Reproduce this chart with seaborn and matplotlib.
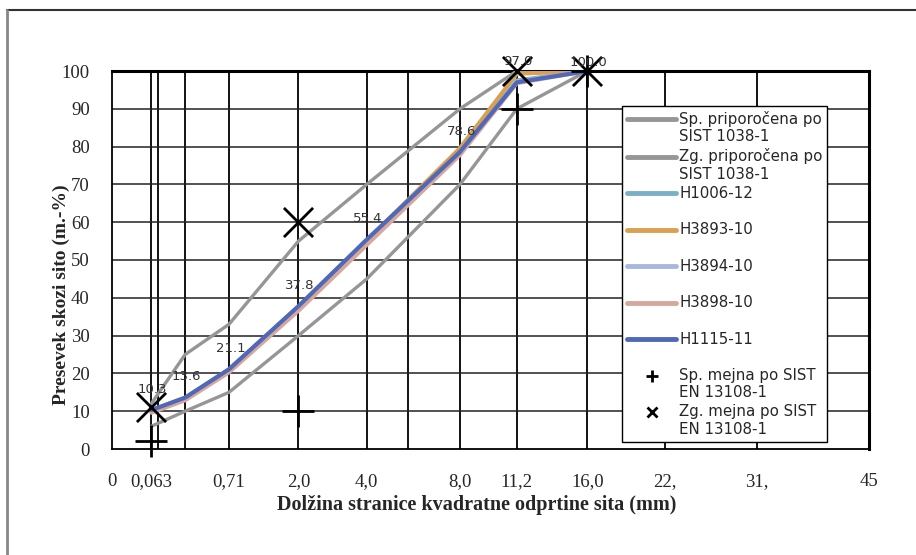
import numpy as np
import pandas as pd
import matplotlib
matplotlib.use("Agg")
import matplotlib.pyplot as plt
import seaborn as sns
from matplotlib.lines import Line2D
from matplotlib.legend_handler import HandlerLine2D
from matplotlib.ticker import MultipleLocator

# ---------------- data ----------------
sieves = [0.063, 0.25, 0.71, 2.0, 4.0, 8.0, 11.2, 16.0]
grid_sieves = [0.063, 0.09, 0.25, 0.71, 2.0, 4.0, 5.6, 8.0, 11.2, 16.0, 22.4, 31.5, 45.0]
tick_pos = [0, 0.063, 0.09, 0.25, 0.71, 2.0, 4.0, 5.6, 8.0, 11.2, 16.0, 22.4, 31.5, 45.0]
tick_lab = ["0", "0,063", "", "", "0,71", "2,0", "4,0", "", "8,0", "11,2", "16,0", "22,", "31,", "45"]

sp_prip = [6, 10, 15, 30, 45, 70, 90, 100]
zg_prip = [12, 25, 33, 55, 70, 90, 100, 100]
h1006_12 = [10.1, 13.4, 21.0, 37.6, 55.2, 78.5, 97.5, 100.0]
h3893_10 = [10.2, 13.5, 21.0, 37.5, 55.0, 79.6, 99.3, 100.0]
h3894_10 = [10.0, 13.3, 20.8, 37.3, 55.0, 78.4, 97.2, 100.0]
h3898_10 = [9.6, 12.9, 20.3, 36.6, 54.0, 77.8, 96.8, 100.0]
h1115_11 = [10.3, 13.6, 21.1, 37.8, 55.4, 78.6, 97.0, 100.0]

mejna_x = [0.063, 2.0, 11.2, 16.0]
sp_mejna = [2, 10, 90, 100]
zg_mejna = [11, 60, 100, 100]

series = [
    ("Sp. priporočena po\nSIST 1038-1", sp_prip, "#969696", 2.4),
    ("Zg. priporočena po\nSIST 1038-1", zg_prip, "#969696", 2.4),
    ("H1006-12\n", h1006_12, "#7aafc6", 3.0),
    ("H3893-10\n", h3893_10, "#d8a050", 3.0),
    ("H3894-10\n", h3894_10, "#a9b8e0", 3.0),
    ("H3898-10\n", h3898_10, "#d6a79c", 3.0),
    ("H1115-11\n", h1115_11, "#5068b8", 3.0),
]

# ---------------- figure ----------------
sns.set_style("white")
plt.rcParams["font.family"] = ["DejaVu Sans"]
W, H = 916, 555
fig = plt.figure(figsize=(W / 100, H / 100), dpi=100)
L, R, T, B = 112, 869, 71, 449
ax = fig.add_axes([L / W, 1 - B / H, (R - L) / W, (B - T) / H])

p = 0.45
ax.set_xscale("function", functions=(lambda x: np.power(np.clip(x, 0, None), p),
                                     lambda x: np.power(np.clip(x, 0, None), 1 / p)))
ax.set_xlim(0, 45)
ax.set_ylim(0, 100)

# grid
for g in grid_sieves:
    ax.axvline(g, color="black", lw=1.3, zorder=1)
for yv in range(10, 101, 10):
    ax.axhline(yv, color="#222222", lw=1.1, zorder=1)

handles = []
labels = []
for name, vals, col, lw in series:
    df = pd.DataFrame({"x": sieves, "y": vals})
    sns.lineplot(data=df, x="x", y="y", ax=ax, color=col, lw=lw, sort=False,
                 estimator=None, zorder=3, legend=False)
    handles.append(Line2D([], [], color=col, lw=3.5))
    labels.append(name)

dfm1 = pd.DataFrame({"x": mejna_x, "y": sp_mejna})
dfm2 = pd.DataFrame({"x": mejna_x, "y": zg_mejna})
sns.scatterplot(data=dfm1, x="x", y="y", ax=ax, marker="+", s=560, color="black",
                linewidth=2.0, zorder=5, legend=False, clip_on=False)
sns.scatterplot(data=dfm2, x="x", y="y", ax=ax, marker="x", s=440, color="black",
                linewidth=2.0, zorder=5, legend=False, clip_on=False)
handles.append(Line2D([], [], ls="none", marker="+", ms=8, mew=2, color="black"))
labels.append("Sp. mejna po SIST\nEN 13108-1")
handles.append(Line2D([], [], ls="none", marker="x", ms=7, mew=2, color="black"))
labels.append("Zg. mejna po SIST\nEN 13108-1")

# data labels (kept inside the chart near the top)
for xv, yv in zip(sieves, h1115_11):
    off = 15 if yv < 99 else 6
    ax.annotate(f"{yv:.1f}", (xv, yv), xytext=(1, off), textcoords="offset points",
                ha="center", va="center", fontsize=9.5, color="#333333", zorder=6,
                annotation_clip=False)

# axes styling
for s in ["left", "bottom"]:
    ax.spines[s].set_linewidth(1.3)
    ax.spines[s].set_color("black")
for s in ["top", "right"]:
    ax.spines[s].set_linewidth(2.2)
    ax.spines[s].set_color("black")

ax.set_xticks(tick_pos)
ax.set_xticklabels(tick_lab, fontfamily="Liberation Serif", fontsize=13.5)
ax.tick_params(axis="x", length=0, pad=17)
ax.set_yticks(range(0, 101, 10))
ax.set_yticklabels([str(v) for v in range(0, 101, 10)], fontfamily="Liberation Serif", fontsize=13.5)
ax.minorticks_on()
ax.yaxis.set_minor_locator(MultipleLocator(2))
ax.xaxis.set_minor_locator(matplotlib.ticker.NullLocator())
ax.tick_params(axis="y", which="major", direction="out", length=5, width=1.2, color="black", pad=11)
ax.tick_params(axis="y", which="minor", direction="in", length=5, width=1.0, color="black")

ax.set_xlabel("Dolžina stranice kvadratne odprtine sita (mm)", fontfamily="Liberation Serif",
              fontweight="bold", fontsize=14.5)
ax.xaxis.set_label_coords((477 - L) / (R - L), (B - 495) / (B - T))
ax.set_ylabel("Presevek skozi sito (m.-%)", fontfamily="Liberation Serif",
              fontweight="bold", fontsize=14)
ax.yaxis.set_label_coords((70 - L) / (R - L), (B - 295) / (B - T))


class UpHandler(HandlerLine2D):
    def __init__(self, shift, **kw):
        super().__init__(**kw)
        self.shift = shift

    def create_artists(self, legend, orig_handle, xdescent, ydescent, width, height, fontsize, trans):
        arts = super().create_artists(legend, orig_handle, xdescent, ydescent, width, height, fontsize, trans)
        for a in arts:
            a.set_ydata(np.asarray(a.get_ydata(), dtype=float) + self.shift)
        return arts


leg = ax.legend(handles, labels, loc="upper left",
                bbox_to_anchor=((622 - L) / (R - L), (B - 106) / (B - T)),
                borderaxespad=0, frameon=True, fancybox=False, framealpha=1,
                edgecolor="black", fontsize=10.8, handlelength=3.3, handletextpad=0.2,
                labelspacing=0.27, borderpad=0.32, numpoints=1,
                handler_map={Line2D: UpHandler(6.6)})
leg.get_frame().set_linewidth(1.0)
leg.set_zorder(10)
for t in leg.get_texts():
    t.set_linespacing(1.2)

# figure outer border (top & left visible)
fig.add_artist(Line2D([7 / W, 1.0], [1 - 9.5 / H, 1 - 9.5 / H], transform=fig.transFigure,
                      color="#333333", lw=1.5))
fig.add_artist(Line2D([7 / W, 7 / W], [0, 1 - 9.5 / H], transform=fig.transFigure,
                      color="#888888", lw=2))

fig.savefig("out.png", dpi=100)
